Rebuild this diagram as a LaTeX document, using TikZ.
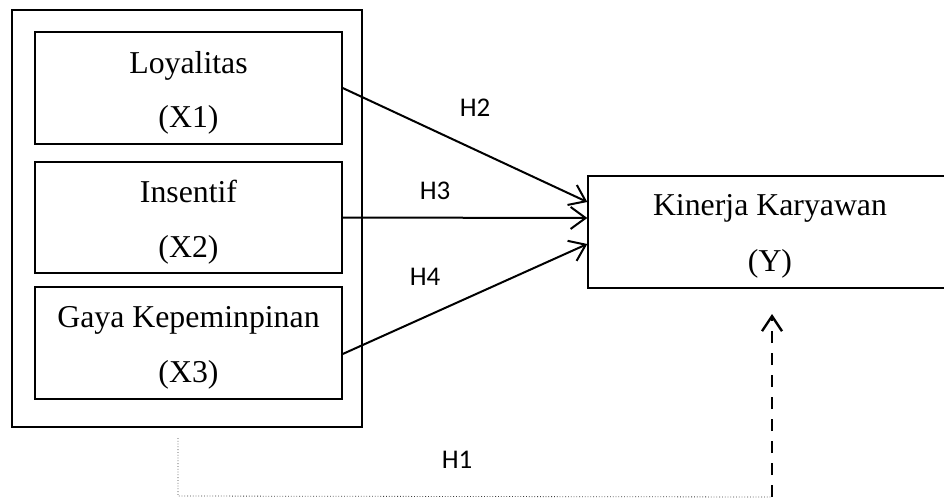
\documentclass[tikz,border=0pt]{standalone}
\usepackage{fontspec}
\setmainfont{Liberation Serif}
\newfontfamily\hfont{Carlito}
\usetikzlibrary{arrows.meta}
\begin{document}
\begin{tikzpicture}[x=1pt,y=-1pt,
 box/.style={draw,line width=1.4pt,inner sep=0pt},
 lbl/.style={anchor=base,inner sep=0pt,font=\fontsize{31.8}{38}\selectfont},
 hl/.style={anchor=base,inner sep=0pt,font=\hfont\fontsize{27}{32}\selectfont},
 arr/.style={line width=2pt,-{Straight Barb[length=15pt,width=22pt,line width=2pt]}},
 darr/.style={line width=2.8pt,dash pattern=on 12pt off 10pt,-{Straight Barb[length=15pt,width=20pt,line width=2.4pt]}},
 dotl/.style={line width=0.8pt,dotted,black!75},
]
\clip (0,0) rectangle (944,498);
\fill[white] (0,0) rectangle (944,498);
\node[box,minimum width=350pt,minimum height=417pt] (outer) at (187,218.5) {};
\node[box,minimum width=307pt,minimum height=112pt] (box1) at (188.5,88) {};
\node[box,minimum width=307pt,minimum height=111pt] (box2) at (188.5,217.5) {};
\node[box,minimum width=307pt,minimum height=112pt] (box3) at (188.5,343) {};
\node[box,minimum width=372pt,minimum height=112pt] (ybox) at (774,232) {};
\node[lbl] (t1a) at (188.5,73) {Loyalitas};
\node[lbl] (t1b) at (188.5,127) {(X1)};
\node[lbl] (t2a) at (188.5,202) {Insentif};
\node[lbl] (t2b) at (188.5,257) {(X2)};
\node[lbl] (t3a) at (188.5,327) {Gaya Kepeminpinan};
\node[lbl] (t3b) at (188.5,382) {(X3)};
\node[lbl] (tya) at (770,215) {Kinerja Karyawan};
\node[lbl] (tyb) at (770,271) {(Y)};
\draw[arr] (box1.east) -- ([yshift=30pt]ybox.west);
\draw[arr] (box2.east) -- ([yshift=14pt]ybox.west);
\draw[arr] ([yshift=-11pt]box3.east) -- ([yshift=-12pt]ybox.west);
\coordinate (dbot) at (772,497);
\coordinate (dtip) at (772,314);
\coordinate (p0) at (178,438);
\coordinate (p1) at (178,496);
\draw[darr] (dbot) -- (dtip);
\draw[dotl] (p0) -- (p1) -- (dbot);
\node[hl] (h1) at (457,468) {H1};
\node[hl] (h2) at (475,116) {H2};
\node[hl] (h3) at (435,199) {H3};
\node[hl] (h4) at (425,285) {H4};
\end{tikzpicture}
\end{document}
